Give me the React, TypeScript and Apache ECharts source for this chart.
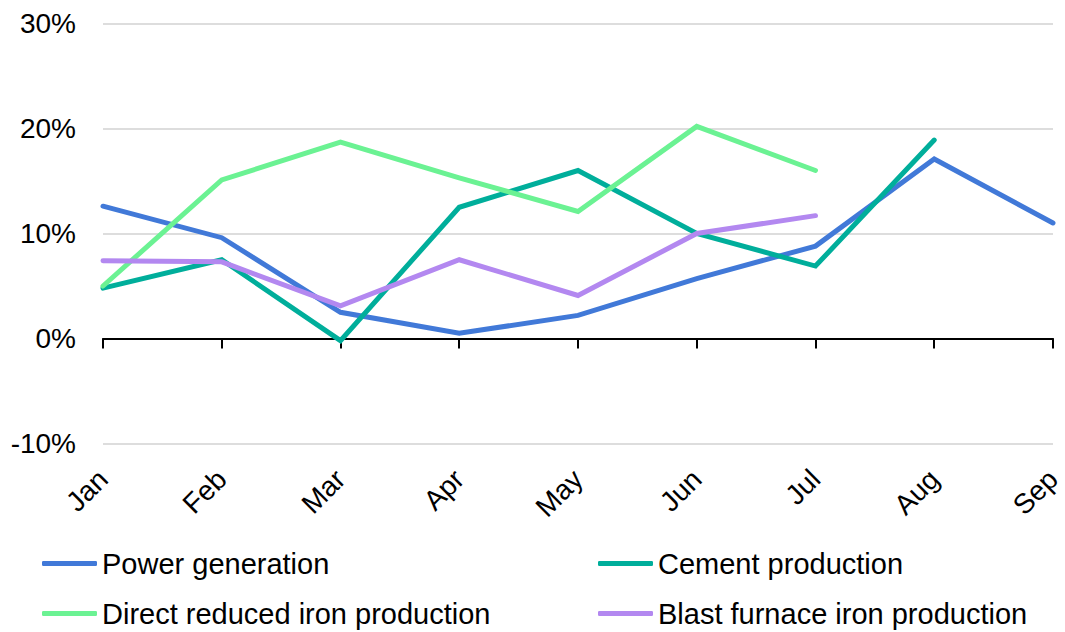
import React, { useEffect, useRef } from "react";
import * as echarts from "echarts";

const months = ["Jan", "Feb", "Mar", "Apr", "May", "Jun", "Jul", "Aug", "Sep"];
const powerGeneration = [12.6, 9.6, 2.5, 0.5, 2.2, 5.7, 8.8, 17.1, 11.0];
const cementProduction = [4.8, 7.5, -0.2, 12.5, 16.0, 10.0, 6.9, 18.9, null];
const directReducedIron = [5.0, 15.1, 18.7, 15.3, 12.1, 20.2, 16.0, null, null];
const blastFurnaceIron = [7.4, 7.3, 3.1, 7.5, 4.1, 10.0, 11.7, null, null];

const seriesNames = [
  "Power generation",
  "Cement production",
  "Direct reduced iron production",
  "Blast furnace iron production",
];
const seriesColors = ["#4179D8", "#00AE9B", "#6BF293", "#B388F0"];
const seriesData = [powerGeneration, cementProduction, directReducedIron, blastFurnaceIron];

const FONT = "'Liberation Sans', Arial, sans-serif";

export default function App() {
  const ref = useRef<HTMLDivElement>(null);
  useEffect(() => {
    if (!ref.current) return;
    const chart = echarts.init(ref.current, null, { renderer: "svg" });
    const legendPos = [
      { left: 42, top: 549 },
      { left: 598, top: 549 },
      { left: 42, top: 599 },
      { left: 598, top: 599 },
    ];
    chart.setOption({
      animation: false,
      backgroundColor: "#ffffff",
      grid: { left: 103, right: 6, top: 23.5, bottom: 632 - 443.5, containLabel: false },
      legend: seriesNames.map((n, i) => ({
        data: [n],
        left: legendPos[i].left,
        top: legendPos[i].top,
        icon: "roundRect",
        itemWidth: 55,
        itemHeight: 5,
        itemGap: 0,
        padding: 0,
        selectedMode: false,
        textStyle: { fontFamily: FONT, fontSize: 29, color: "#000", padding: [0, 0, 0, 0] },
      })),
      xAxis: [
        {
          type: "category",
          data: months,
          boundaryGap: false,
          axisLine: { onZero: true, lineStyle: { color: "#000", width: 2 } },
          axisTick: { show: true, length: 10, lineStyle: { color: "#000", width: 2 }, alignWithLabel: true },
          axisLabel: { show: false },
          splitLine: { show: false },
        },
        {
          type: "category",
          data: months,
          boundaryGap: false,
          position: "bottom",
          axisLine: { show: false, onZero: false },
          axisTick: { show: false },
          axisLabel: {
            show: true,
            rotate: 45,
            margin: 31,
            interval: 0,
            fontFamily: FONT,
            fontSize: 28,
            color: "#000",
          },
          splitLine: { show: false },
        },
      ],
      yAxis: {
        type: "value",
        min: -10,
        max: 30,
        interval: 10,
        axisLine: { show: false },
        axisTick: { show: false },
        axisLabel: {
          formatter: "{value}%",
          fontFamily: FONT,
          fontSize: 28,
          color: "#000",
          margin: 27,
        },
        splitLine: { lineStyle: { color: "#DDDDDD", width: 2 } },
      },
      series: seriesNames.map((n, i) => ({
        name: n,
        type: "line",
        data: seriesData[i],
        xAxisIndex: 0,
        symbol: "none",
        showSymbol: false,
        connectNulls: false,
        color: seriesColors[i],
        lineStyle: { width: 5, color: seriesColors[i], cap: "round", join: "miter" },
        z: 3,
      })),
    });
    return () => chart.dispose();
  }, []);
  return <div ref={ref} style={{ width: 1065, height: 632, position: "absolute", left: 0, top: 0 }} />;
}
